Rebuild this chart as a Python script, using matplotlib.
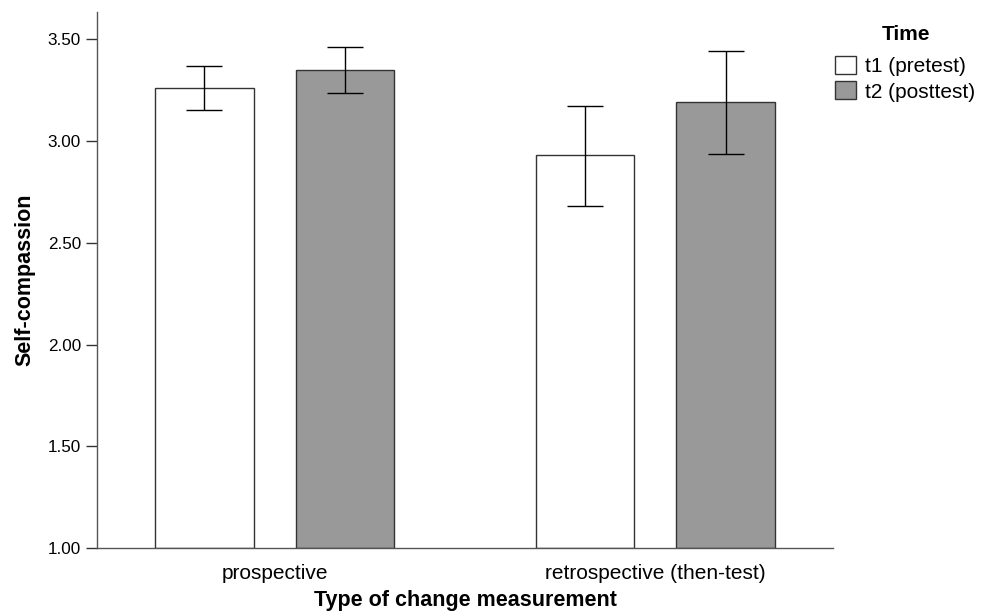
import numpy as np
import matplotlib
matplotlib.use('Agg')
import matplotlib.pyplot as plt
from matplotlib.patches import Patch

plt.rcParams['font.family'] = ['Liberation Sans', 'DejaVu Sans']

# data
categories = ['prospective', 'retrospective (then-test)']
series_labels = ['t1 (pretest)', 't2 (posttest)']
t1_mean = [3.26, 2.93]
t2_mean = [3.35, 3.19]
t1_low = [3.15, 2.68]
t1_high = [3.37, 3.17]
t2_low = [3.235, 2.935]
t2_high = [3.46, 3.44]
y_ticks = [1.00, 1.50, 2.00, 2.50, 3.00, 3.50]

fig = plt.figure(figsize=(9.89, 6.13), dpi=100)
ax = fig.add_axes([0.0981, 0.1055, 0.7442, 0.8749])

x = np.arange(len(categories))
width = 0.259
offset = 0.185
base = 1.0
colors = ['white', '#999999']
means = [t1_mean, t2_mean]
lows = [t1_low, t2_low]
highs = [t1_high, t2_high]

for k in range(2):
    xs = x + (offset if k == 1 else -offset)
    m = np.array(means[k])
    ax.bar(xs, m - base, width=width, bottom=base, color=colors[k],
           edgecolor='#333333', linewidth=1.0, zorder=2)
    lo = m - np.array(lows[k])
    hi = np.array(highs[k]) - m
    ax.errorbar(xs, m, yerr=[lo, hi], fmt='none', ecolor='black',
                elinewidth=1.0, capsize=12.8, capthick=1.0, zorder=3)

ax.set_xlim(-0.467, 1.467)
ax.set_ylim(1.0, 3.633)
ax.set_yticks(y_ticks)
ax.set_yticklabels([f'{v:.2f}' for v in y_ticks])
ax.set_xticks(x)
ax.set_xticklabels(categories)
ax.tick_params(axis='x', length=0, labelsize=15, pad=11)
ax.tick_params(axis='y', length=8, width=1.0, labelsize=12.3, color='#333333', pad=3.5)

for s in ['top', 'right']:
    ax.spines[s].set_visible(False)
for s in ['left', 'bottom']:
    ax.spines[s].set_color('#555555')
    ax.spines[s].set_linewidth(1.0)

ax.set_ylabel('Self-compassion', fontsize=15.5, fontweight='bold', labelpad=9)
ax.set_xlabel('Type of change measurement', fontsize=15.5, fontweight='bold', labelpad=5.5)

# legend title drawn on its own so the gap to the entries matches
fig.text(906 / 989, 1 - 35 / 613, 'Time', fontsize=15, fontweight='bold',
         ha='center', va='center')
handles = [Patch(facecolor=colors[k], edgecolor='#333333', linewidth=1.0)
           for k in range(2)]
leg = fig.legend(handles, series_labels, loc='upper left',
                 bbox_to_anchor=(835 / 989, 1 - 56 / 613), frameon=False,
                 fontsize=15, handlelength=1.0, handleheight=0.95,
                 handletextpad=0.43, labelspacing=0.25, borderaxespad=0,
                 borderpad=0)

fig.savefig('out.png', dpi=100)
